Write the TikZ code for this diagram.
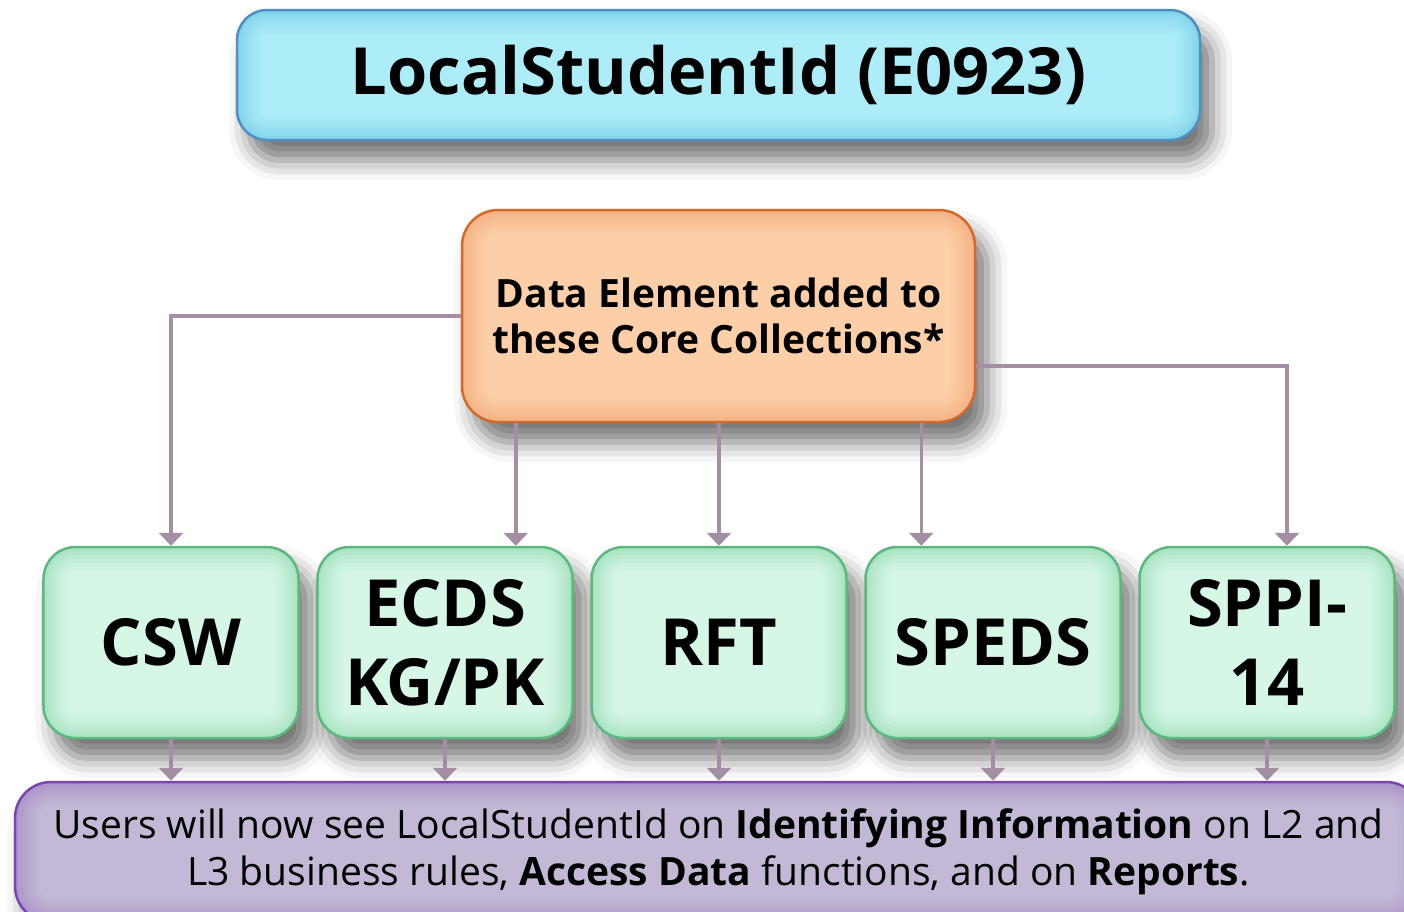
\documentclass[tikz,border=0pt]{standalone}
\usepackage{fontspec}
\setmainfont{Open Sans}
\usepackage{tikz}
\usetikzlibrary{arrows.meta,shadows.blur}
\definecolor{topfill}{HTML}{ACEDF8}
\definecolor{topedge}{HTML}{5BBCE0}
\definecolor{topdraw}{HTML}{4F8FC4}
\definecolor{corefill}{HTML}{FCCFA8}
\definecolor{coreedge}{HTML}{EE9A62}
\definecolor{coredraw}{HTML}{D4692A}
\definecolor{collfill}{HTML}{D6F7E6}
\definecolor{colledge}{HTML}{7ED3A4}
\definecolor{colldraw}{HTML}{5CB87E}
\definecolor{userfill}{HTML}{C3B9D6}
\definecolor{useredge}{HTML}{9A74C0}
\definecolor{userdraw}{HTML}{7B44B4}
\definecolor{linkc}{HTML}{A48EA4}
\tikzset{
	panel/.style n args={4}{
		% The shape:
		rectangle,rounded corners=#4,inner sep=0pt,align=center,
		% The border:
		draw=#3,line width=2.5pt,
		% The filling: flat middle, darker glow at the edges
		fill=#1,
		path picture={
			\foreach \w/\o in {48/0.06,40/0.07,32/0.08,24/0.10,16/0.12,8/0.16}
				\draw[#2,opacity=\o,line width=\w pt,rounded corners=#4]
					(path picture bounding box.south west) rectangle (path picture bounding box.north east);
		},
		% The shadow:
		blur shadow={shadow xshift=12pt,shadow yshift=-20pt,shadow blur radius=20pt,shadow opacity=55},
	}}
\tikzset{
	title/.style={
		panel={topfill}{topedge}{topdraw}{30pt},
		minimum width=963pt,minimum height=130pt,
		font=\fontsize{65pt}{78pt}\selectfont\bfseries,
	},
	core/.style={
		panel={corefill}{coreedge}{coredraw}{36pt},
		minimum width=513pt,minimum height=212pt,
		font=\fontsize{39pt}{46pt}\selectfont\bfseries,
	},
	coll/.style={
		panel={collfill}{colledge}{colldraw}{32pt},
		minimum width=255pt,minimum height=191pt,
		font=\fontsize{65pt}{79pt}\selectfont\bfseries,
	},
	users/.style={
		panel={userfill}{useredge}{userdraw}{36pt},
		minimum width=1407pt,minimum height=140pt,
		font=\fontsize{39pt}{47pt}\selectfont,
	},
	link/.style={
		draw=linkc,line width=3.5pt,
		-{Triangle[width=24pt,length=13pt]},
	}}

\begin{document}
\begin{tikzpicture}[x=1pt,y=-1pt]
	\useasboundingbox (0,0) rectangle (1404,911);
	\node[title] (elem) at (718.5,75) {LocalStudentId (E0923)};
	\node[core] (added) at (718.5,316) {Data Element added to\\these Core Collections*};
	\matrix (row) [column sep=16.5pt,ampersand replacement=\&] at (719,642.5) {
		\node[coll] (csw) {CSW}; \&
		\node[coll] (ecds) {ECDS\\KG/PK}; \&
		\node[coll] (rft) {RFT}; \&
		\node[coll] (speds) {SPEDS}; \&
		\node[coll] (sppi) {SPPI-\\14}; \\
	};
	\node[users] (see) at (718.5,852) {Users will now see LocalStudentId on \textbf{Identifying Information} on L2 and\\L3 business rules, \textbf{Access Data} functions, and on \textbf{Reports}.};
	% core collections
	\draw[link] (added.west) -| (csw.north);
	\draw[link] ([xshift=55pt]added.south west) -- ([xshift=55pt]added.south west |- ecds.north);
	\draw[link] (added.south -| rft.north) -- (rft.north);
	\draw[link] ([xshift=-55pt]added.south east) -- ([xshift=-55pt]added.south east |- speds.north);
	\draw[link] ([yshift=-50pt]added.east) -| ([xshift=20pt]sppi.north);
	% down to the users
	\foreach \c in {csw,ecds,rft,speds,sppi}
		\draw[link] (\c.south) -- (\c.south |- see.north);
\end{tikzpicture}
\end{document}
